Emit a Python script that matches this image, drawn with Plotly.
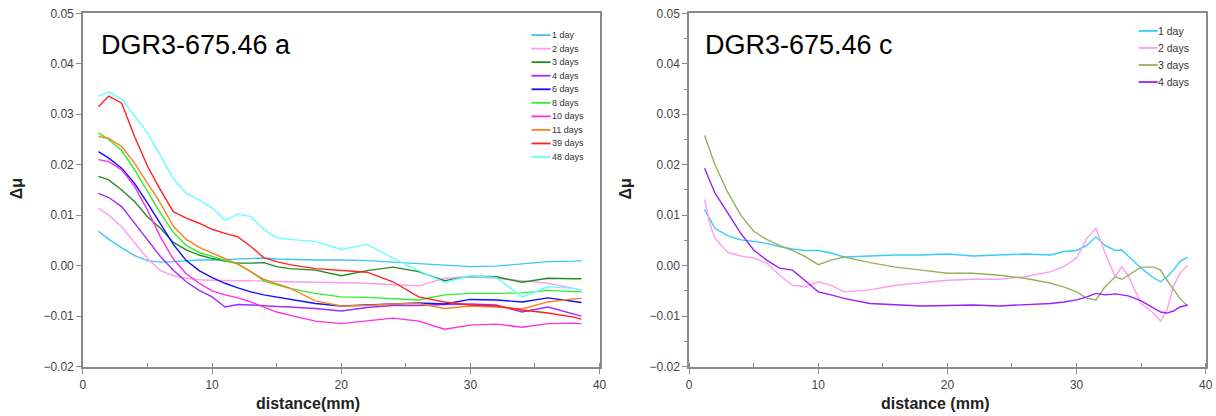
import plotly.graph_objects as go

# ---------------- data: panel a ----------------
xa = [1.2, 2, 3, 4, 5, 6, 7, 8, 9, 10, 11, 12, 13, 14, 15, 16, 18, 20, 22, 24, 26, 28, 30, 32, 34, 36, 38, 38.6]
a_labels = ["1 day", "2 days", "3 days", "4 days", "6 days", "8 days", "10 days", "11 days", "39 days", "48 days"]
a_1 = [0.0068, 0.0052, 0.0035, 0.0020, 0.0010, 0.0007, 0.0008, 0.0010, 0.0011, 0.0011, 0.0012, 0.0012, 0.0014, 0.0015, 0.0013, 0.0012, 0.0011, 0.0011, 0.0010, 0.0007, 0.0004, 0.0002, -0.0002, -0.0001, 0.0003, 0.0008, 0.0009, 0.0010]
a_2 = [0.0114, 0.0100, 0.0077, 0.0046, 0.0014, -0.0010, -0.0020, -0.0025, -0.0028, -0.0029, -0.0030, -0.0030, -0.0030, -0.0031, -0.0031, -0.0032, -0.0033, -0.0034, -0.0035, -0.0038, -0.0040, -0.0025, -0.0022, -0.0025, -0.0030, -0.0035, -0.0045, -0.0049]
a_3 = [0.0177, 0.0170, 0.0150, 0.0127, 0.0097, 0.0074, 0.0046, 0.0031, 0.0021, 0.0014, 0.0009, 0.0005, 0.0005, 0.0006, -0.0002, -0.0006, -0.0009, -0.0020, -0.0010, -0.0003, -0.0012, -0.0030, -0.0021, -0.0022, -0.0033, -0.0025, -0.0026, -0.0026]
a_4 = [0.0143, 0.0135, 0.0117, 0.0084, 0.0051, 0.0018, -0.0009, -0.0032, -0.0049, -0.0062, -0.0082, -0.0077, -0.0078, -0.0080, -0.0081, -0.0082, -0.0085, -0.0090, -0.0083, -0.0079, -0.0079, -0.0077, -0.0076, -0.0078, -0.0092, -0.0082, -0.0095, -0.0100]
a_6 = [0.0226, 0.0213, 0.0193, 0.0163, 0.0124, 0.0084, 0.0042, 0.0010, -0.0010, -0.0024, -0.0035, -0.0044, -0.0052, -0.0058, -0.0062, -0.0066, -0.0075, -0.0080, -0.0078, -0.0076, -0.0074, -0.0076, -0.0067, -0.0068, -0.0072, -0.0064, -0.0072, -0.0073]
a_8 = [0.0263, 0.0250, 0.0228, 0.0190, 0.0147, 0.0104, 0.0066, 0.0040, 0.0026, 0.0018, 0.0011, 0.0003, -0.0012, -0.0030, -0.0038, -0.0045, -0.0055, -0.0062, -0.0063, -0.0066, -0.0068, -0.0058, -0.0055, -0.0055, -0.0054, -0.0049, -0.0052, -0.0052]
a_10 = [0.0210, 0.0206, 0.0190, 0.0157, 0.0110, 0.0057, 0.0013, -0.0016, -0.0035, -0.0050, -0.0058, -0.0064, -0.0072, -0.0082, -0.0092, -0.0098, -0.0110, -0.0115, -0.0110, -0.0104, -0.0110, -0.0126, -0.0118, -0.0116, -0.0122, -0.0115, -0.0114, -0.0115]
a_11 = [0.0256, 0.0252, 0.0236, 0.0203, 0.0163, 0.0124, 0.0078, 0.0052, 0.0036, 0.0025, 0.0014, 0.0003, -0.0012, -0.0027, -0.0036, -0.0044, -0.0070, -0.0080, -0.0079, -0.0076, -0.0075, -0.0085, -0.0080, -0.0082, -0.0086, -0.0072, -0.0066, -0.0065]
a_39 = [0.0315, 0.0336, 0.0322, 0.0256, 0.0197, 0.0150, 0.0107, 0.0094, 0.0084, 0.0072, 0.0064, 0.0057, 0.0038, 0.0016, 0.0008, 0.0002, -0.0006, -0.0010, -0.0013, -0.0032, -0.0062, -0.0072, -0.0078, -0.0080, -0.0088, -0.0094, -0.0102, -0.0106]
a_48 = [0.0336, 0.0344, 0.0330, 0.0296, 0.0263, 0.0218, 0.0172, 0.0143, 0.0130, 0.0114, 0.0090, 0.0102, 0.0097, 0.0072, 0.0055, 0.0052, 0.0048, 0.0032, 0.0042, 0.0015, -0.0010, -0.0033, -0.0020, -0.0024, -0.0062, -0.0042, -0.0045, -0.0048]
a_series = [a_1, a_2, a_3, a_4, a_6, a_8, a_10, a_11, a_39, a_48]
a_colors = ["#3CC8F2", "#FF9CEE", "#238B23", "#9B30FF", "#1010FF", "#2EEE2E", "#FF2EE0", "#FF7F1E", "#FF2222", "#66FFFF"]

# ---------------- data: panel c ----------------
xc = [1.2, 1.6, 2, 3, 4, 5, 6, 7, 8, 9, 10, 11, 12, 14, 16, 18, 20, 22, 24, 26, 28, 29, 30, 30.8, 31.5, 32.2, 33, 33.5, 34, 35, 36, 36.5, 37, 37.5, 38, 38.6]
c_labels = ["1 day", "2 days", "3 days", "4 days"]
c_1 = [0.0111, 0.0091, 0.0074, 0.0059, 0.0051, 0.0048, 0.0044, 0.0038, 0.0033, 0.0030, 0.0030, 0.0025, 0.0017, 0.0019, 0.0021, 0.0021, 0.0023, 0.0019, 0.0021, 0.0023, 0.0021, 0.0028, 0.0030, 0.0040, 0.0057, 0.0040, 0.0030, 0.0031, 0.0019, -0.0005, -0.0025, -0.0032, -0.0022, -0.0009, 0.0008, 0.0017]
c_2 = [0.0131, 0.0084, 0.0054, 0.0026, 0.0019, 0.0015, 0.0005, -0.0019, -0.0039, -0.0042, -0.0032, -0.0039, -0.0052, -0.0048, -0.0039, -0.0034, -0.0029, -0.0027, -0.0027, -0.0022, -0.0012, -0.0002, 0.0015, 0.0054, 0.0074, 0.0025, -0.0022, -0.0002, -0.0020, -0.0075, -0.0095, -0.0110, -0.0088, -0.0042, -0.0015, 0.0001]
c_3 = [0.0258, 0.0228, 0.0200, 0.0145, 0.0100, 0.0068, 0.0052, 0.0040, 0.0030, 0.0018, 0.0002, 0.0011, 0.0017, 0.0006, -0.0003, -0.0009, -0.0015, -0.0015, -0.0019, -0.0025, -0.0035, -0.0042, -0.0052, -0.0065, -0.0068, -0.0042, -0.0022, -0.0027, -0.0019, -0.0003, -0.0003, -0.0009, -0.0029, -0.0048, -0.0065, -0.0080]
c_4 = [0.0193, 0.0170, 0.0144, 0.0104, 0.0064, 0.0031, 0.0011, -0.0005, -0.0009, -0.0030, -0.0052, -0.0058, -0.0065, -0.0075, -0.0078, -0.0080, -0.0079, -0.0078, -0.0080, -0.0078, -0.0075, -0.0072, -0.0068, -0.0062, -0.0055, -0.0058, -0.0056, -0.0058, -0.0060, -0.0070, -0.0085, -0.0092, -0.0094, -0.0090, -0.0082, -0.0078]
c_series = [c_1, c_2, c_3, c_4]
c_colors = ["#33CCFF", "#FF9CEE", "#9AAF5C", "#9B1FFF"]

x_ticks = [0, 10, 20, 30, 40]
y_ticks = [-0.02, -0.01, 0.00, 0.01, 0.02, 0.03, 0.04, 0.05]

W, H = 1216, 416
FONT = "Liberation Sans, Arial, Helvetica, sans-serif"

# measured relation between figure pixels and the photographed page
SX, BX = 0.9915, 2.6
SY, OY = 0.963, 8.0


def px(x):
    return ((x - BX) / SX) / W


def py(y):
    return 1 - (y / SY - OY) / H


fig = go.Figure()
for lab, ys, col in zip(a_labels, a_series, a_colors):
    fig.add_trace(go.Scatter(x=xa, y=ys, mode="lines", name=lab, line=dict(color=col, width=1.4),
                             xaxis="x", yaxis="y", showlegend=False))
for lab, ys, col in zip(c_labels, c_series, c_colors):
    fig.add_trace(go.Scatter(x=xc, y=ys, mode="lines", name=lab, line=dict(color=col, width=1.4),
                             xaxis="x2", yaxis="y2", showlegend=False))

axcol = "#8a8a8a"
tickfont = dict(family=FONT, size=12, color="#444444")
ydom = [py(366), py(14)]

common_x = dict(range=[0, 40], tickvals=x_ticks, ticks="outside", ticklen=6, tickwidth=1.3, tickcolor=axcol,
                showline=True, linecolor=axcol, linewidth=1.5, mirror=True, showgrid=False, zeroline=False,
                tickfont=tickfont,
                minor=dict(dtick=5, ticks="inside", ticklen=4, tickcolor=axcol, tickwidth=1.2))
common_y = dict(range=[-0.02, 0.05], tickvals=y_ticks, tickformat=".2f", ticks="outside", ticklen=5,
                tickwidth=1.3, tickcolor=axcol, showline=True, linecolor=axcol, linewidth=1.5, mirror=True,
                showgrid=False, zeroline=False, tickfont=tickfont, ticklabeloverflow="allow")

fig.update_layout(
    width=W, height=H,
    margin=dict(l=0, r=0, t=0, b=0),
    paper_bgcolor="white", plot_bgcolor="white",
    font=dict(family=FONT),
    xaxis=dict(domain=[px(82.5), px(599)], anchor="y", **common_x),
    yaxis=dict(domain=ydom, anchor="x", **common_y),
    xaxis2=dict(domain=[px(688.5), px(1205)], anchor="y2", **common_x),
    yaxis2=dict(domain=ydom, anchor="x2",
                minor=dict(dtick=0.005, ticks="outside", ticklen=3, tickcolor=axcol, tickwidth=1.2),
                **common_y),
)

ann = []
shapes = []
# panel titles
ann.append(dict(text="DGR3-675.46 a", x=px(99), y=py(46), xref="paper", yref="paper", xanchor="left",
                yanchor="middle", showarrow=False, font=dict(family=FONT, size=27, color="black")))
ann.append(dict(text="DGR3-675.46 c", x=px(702.5), y=py(46), xref="paper", yref="paper", xanchor="left",
                yanchor="middle", showarrow=False, font=dict(family=FONT, size=27, color="black")))
# axis titles
ann.append(dict(text="<b>distance(mm)</b>", x=px(308), y=py(402.5), xref="paper", yref="paper",
                xanchor="center", yanchor="middle", showarrow=False, font=dict(family=FONT, size=16, color="#222")))
ann.append(dict(text="<b>distance (mm)</b>", x=px(934), y=py(402.5), xref="paper", yref="paper",
                xanchor="center", yanchor="middle", showarrow=False, font=dict(family=FONT, size=16, color="#222")))
ann.append(dict(text="<b>Δμ</b>", x=px(17), y=py(189), xref="paper", yref="paper", textangle=-90,
                xanchor="center", yanchor="middle", showarrow=False, font=dict(family=FONT, size=16, color="#222")))
ann.append(dict(text="<b>Δμ</b>", x=px(625), y=py(189), xref="paper", yref="paper", textangle=-90,
                xanchor="center", yanchor="middle", showarrow=False, font=dict(family=FONT, size=16, color="#222")))

# legends (drawn manually to match the compact spacing)
for i, (lab, col) in enumerate(zip(a_labels, a_colors)):
    yy = 35.7 + i * 13.5
    shapes.append(dict(type="line", xref="paper", yref="paper", x0=px(531), x1=px(550), y0=py(yy), y1=py(yy),
                       line=dict(color=col, width=1.8)))
    ann.append(dict(text=lab, x=px(549), y=py(yy), xref="paper", yref="paper", xanchor="left", yanchor="middle",
                    showarrow=False, font=dict(family=FONT, size=9, color="#333")))
for i, (lab, col) in enumerate(zip(c_labels, c_colors)):
    yy = 31.5 + i * 17
    shapes.append(dict(type="line", xref="paper", yref="paper", x0=px(1138), x1=px(1157), y0=py(yy), y1=py(yy),
                       line=dict(color=col, width=1.8)))
    ann.append(dict(text=lab, x=px(1155), y=py(yy), xref="paper", yref="paper", xanchor="left", yanchor="middle",
                    showarrow=False, font=dict(family=FONT, size=10.5, color="#333")))

fig.update_layout(annotations=ann, shapes=shapes)
fig.write_html("out.html")
